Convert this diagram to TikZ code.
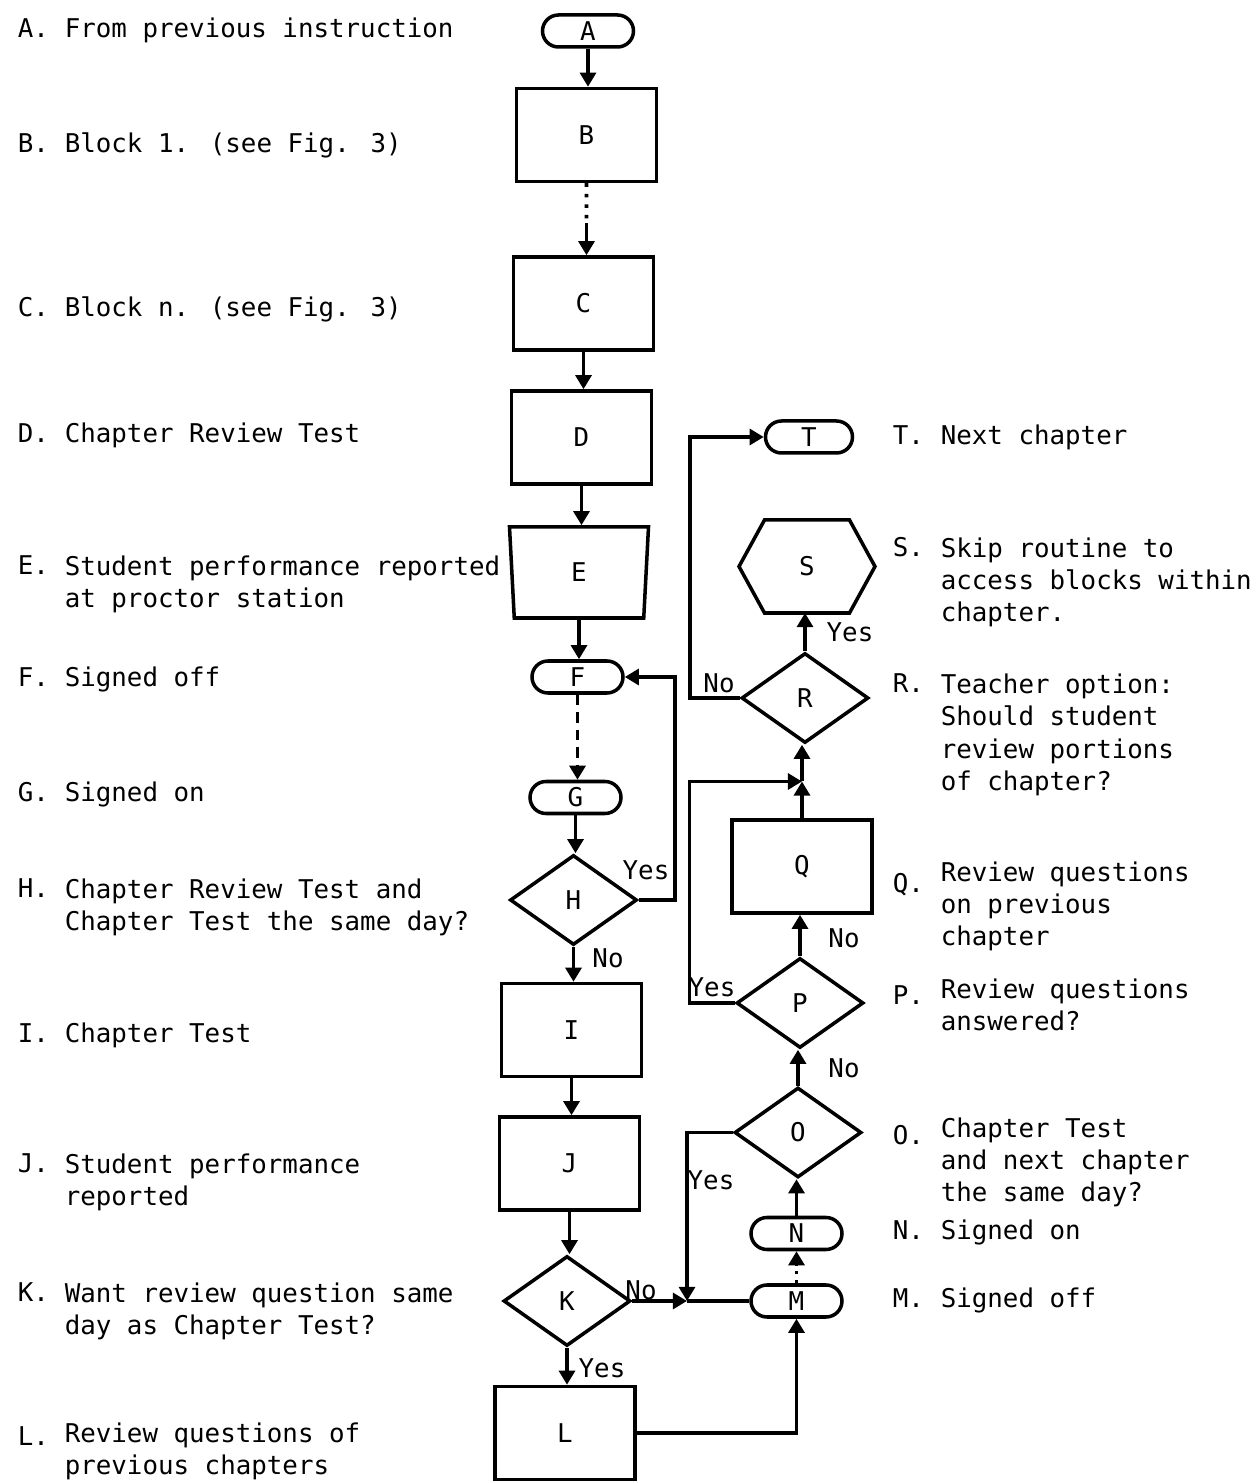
\documentclass[tikz,border=0pt]{standalone}
\usepackage{fontspec}
\newfontfamily\typewriter{DejaVu Sans Mono}
\usetikzlibrary{positioning,arrows.meta,calc,shapes.geometric,shapes.misc}

\begin{document}
\begin{tikzpicture}[x=1cm,y=1cm,line width=2pt,
  font=\typewriter\fontsize{14.7}{18.4}\selectfont,
  termbox/.style={draw,rounded rectangle,minimum width=1.82cm,minimum height=0.64cm,inner sep=0pt},
  procbox/.style={draw,rectangle,minimum width=2.80cm,minimum height=1.86cm,inner sep=0pt},
  decbox/.style={draw,diamond,minimum width=2.54cm,minimum height=1.80cm,inner sep=0pt},
  dispbox/.style={draw,trapezium,trapezium angle=75.8,shape border rotate=180,trapezium stretches body,minimum width=2.78cm,minimum height=1.82cm,inner sep=0pt},
  hexbox/.style={minimum width=2.72cm,minimum height=1.86cm,inner sep=0pt,outer sep=0pt},
  tag/.style={anchor=base west,inner sep=0pt},
  desc/.style={anchor=base west,inner sep=0pt,align=left},
  answer/.style={inner sep=0pt},
  flow/.style={-{Triangle[length=8pt,width=9pt]}},
  dotflow/.style={dash pattern=on 2pt off 4pt},
  dashflow/.style={-{Triangle[length=8pt,width=9pt]},dash pattern=on 6pt off 4pt}]

\useasboundingbox (0,0) rectangle (25.10,29.66);

% main column
\node[termbox] (A) at (11.76,29.04) {A};
\node[procbox] (B) at (11.73,26.96) {B};
\node[procbox] (C) at (11.67,23.59) {C};
\node[procbox] (D) at (11.63,20.91) {D};
\node[dispbox] (E) at (11.58,18.21) {E};
\node[termbox] (F) at (11.55,16.12) {F};
\node[termbox] (G) at (11.51,13.71) {G};
\node[decbox] (H) at (11.47,11.66) {H};
\node[procbox] (I) at (11.43,9.06) {I};
\node[procbox] (J) at (11.39,6.39) {J};
\node[decbox] (K) at (11.34,3.64) {K};
\node[procbox] (L) at (11.30,1.00) {L};

% right column
\node[termbox] (M) at (15.93,3.64) {M};
\node[termbox] (N) at (15.93,4.99) {N};
\node[decbox] (O) at (15.96,7.01) {O};
\node[decbox] (P) at (16.00,9.60) {P};
\node[procbox] (Q) at (16.04,12.33) {Q};
\node[decbox] (R) at (16.10,15.70) {R};
\node[hexbox] (S) at (16.14,18.33) {S};
\node[termbox,minimum width=1.74cm] (T) at (16.18,20.92) {T};
\draw ($(S.north west)+(0.51,0)$) -- ($(S.north east)-(0.51,0)$) -- (S.east)
  -- ($(S.south east)-(0.51,0)$) -- ($(S.south west)+(0.51,0)$) -- (S.west) -- cycle;

% connectors
\coordinate (bgap) at ($(B.south)!0.55!(B.south |- C.north)$);
\coordinate (hloop) at (13.50,16.12);
\coordinate (kjoin) at (13.74,3.64);
\coordinate (qjoin) at ($(Q.north)!0.5!(Q.north |- R.south)$);
\draw[flow] (A.south) -- (A.south |- B.north);
\draw[dotflow] (B.south) -- (bgap);
\draw[flow] (bgap) -- (bgap |- C.north);
\draw[flow] (C.south) -- (C.south |- D.north);
\draw[flow] (D.south) -- (D.south |- E.north);
\draw[flow] (E.south) -- (E.south |- F.north);
\draw[dashflow] (F.south) -- (F.south |- G.north);
\draw[flow] (G.south) -- (G.south |- H.north);
\draw[flow] (H.south) -- (H.south |- I.north);
\draw[flow] (I.south) -- (I.south |- J.north);
\draw[flow] (J.south) -- (J.south |- K.north);
\draw[flow] (K.south) -- (K.south |- L.north);
\draw[flow] (H.east) -| (hloop) -- (F.east);
\draw[flow] (K.east) -- (kjoin);
\draw (kjoin) -- (M.west);
\draw[flow] (O.west) -| (kjoin);
\draw[flow] (L.east) -| (M.south);
\draw[flow,dash pattern=on 2pt off 3pt] (M.north) -- (M.north |- N.south);
\draw[flow] (N.north) -- (N.north |- O.south);
\draw[flow] (O.north) -- (O.north |- P.south);
\draw[flow] (P.north) -- (P.north |- Q.south);
\draw[flow] (Q.north) -- (qjoin);
\draw[flow] (qjoin) -- (qjoin |- R.south);
\draw[flow] (P.west) -| ($(qjoin)+(-2.25,0)$) -- (qjoin);
\draw[flow] (R.west) -| ($(T.west)+(-1.47,0)$) -- (T.west);
\draw[flow] (R.north) -- (R.north |- S.south);

% branch answers
\node[answer] (hyes) at (12.92,12.26) {Yes};
\node[answer] (hno) at (12.16,10.50) {No};
\node[answer] (kno) at (12.82,3.85) {No};
\node[answer] (kyes) at (12.04,2.30) {Yes};
\node[answer] (oyes) at (14.22,6.06) {Yes};
\node[answer] (pyes) at (14.24,9.92) {Yes};
\node[answer] (pno) at (16.88,10.90) {No};
\node[answer] (ono) at (16.88,8.30) {No};
\node[answer] (rno) at (14.38,16.00) {No};
\node[answer] (ryes) at (17.00,17.02) {Yes};

% left key (multi-line nodes sit on their last line)
\node[tag] (la) at (0.32,28.90) {A.};
\node[desc] (da) at (1.26,28.90) {From previous instruction};
\node[tag] (lb) at (0.32,26.60) {B.};
\node[desc] (db) at (1.26,26.60) {Block 1. (see Fig. 3)};
\node[tag] (lc) at (0.32,23.32) {C.};
\node[desc] (dc) at (1.26,23.32) {Block n. (see Fig. 3)};
\node[tag] (ld) at (0.32,20.80) {D.};
\node[desc] (dd) at (1.26,20.80) {Chapter Review Test};
\node[tag] (le) at (0.32,18.16) {E.};
\node[desc] (de) at (1.26,17.51) {Student performance reported\\at proctor station};
\node[tag] (lf) at (0.32,15.92) {F.};
\node[desc] (df) at (1.26,15.92) {Signed off};
\node[tag] (lg) at (0.32,13.62) {G.};
\node[desc] (dg) at (1.26,13.62) {Signed on};
\node[tag] (lh) at (0.32,11.70) {H.};
\node[desc] (dh) at (1.26,11.05) {Chapter Review Test and\\Chapter Test the same day?};
\node[tag] (li) at (0.32,8.80) {I.};
\node[desc] (di) at (1.26,8.80) {Chapter Test};
\node[tag] (lj) at (0.32,6.20) {J.};
\node[desc] (dj) at (1.26,5.55) {Student performance\\reported};
\node[tag] (lk) at (0.32,3.62) {K.};
\node[desc] (dk) at (1.26,2.97) {Want review question same\\day as Chapter Test?};
\node[tag] (ll) at (0.32,0.76) {L.};
\node[desc] (dl) at (1.26,0.17) {Review questions of\\previous chapters};

% right key
\node[tag] (lt) at (17.82,20.76) {T.};
\node[desc] (dt) at (18.78,20.76) {Next chapter};
\node[tag] (ls) at (17.82,18.52) {S.};
\node[desc] (ds) at (18.78,17.22) {Skip routine to\\access blocks within\\chapter.};
\node[tag] (lr) at (17.82,15.80) {R.};
\node[desc] (dr) at (18.78,13.85) {Teacher option:\\Should student\\review portions\\of chapter?};
\node[tag] (lq) at (17.82,11.80) {Q.};
\node[desc] (dq) at (18.78,10.74) {Review questions\\on previous\\chapter};
\node[tag] (lp) at (17.82,9.56) {P.};
\node[desc] (dp) at (18.78,9.05) {Review questions\\answered?};
\node[tag] (lo) at (17.82,6.76) {O.};
\node[desc] (do) at (18.78,5.62) {Chapter Test\\and next chapter\\the same day?};
\node[tag] (ln) at (17.82,4.86) {N.};
\node[desc] (dn) at (18.78,4.86) {Signed on};
\node[tag] (lm) at (17.82,3.50) {M.};
\node[desc] (dm) at (18.78,3.50) {Signed off};
\end{tikzpicture}
\end{document}
